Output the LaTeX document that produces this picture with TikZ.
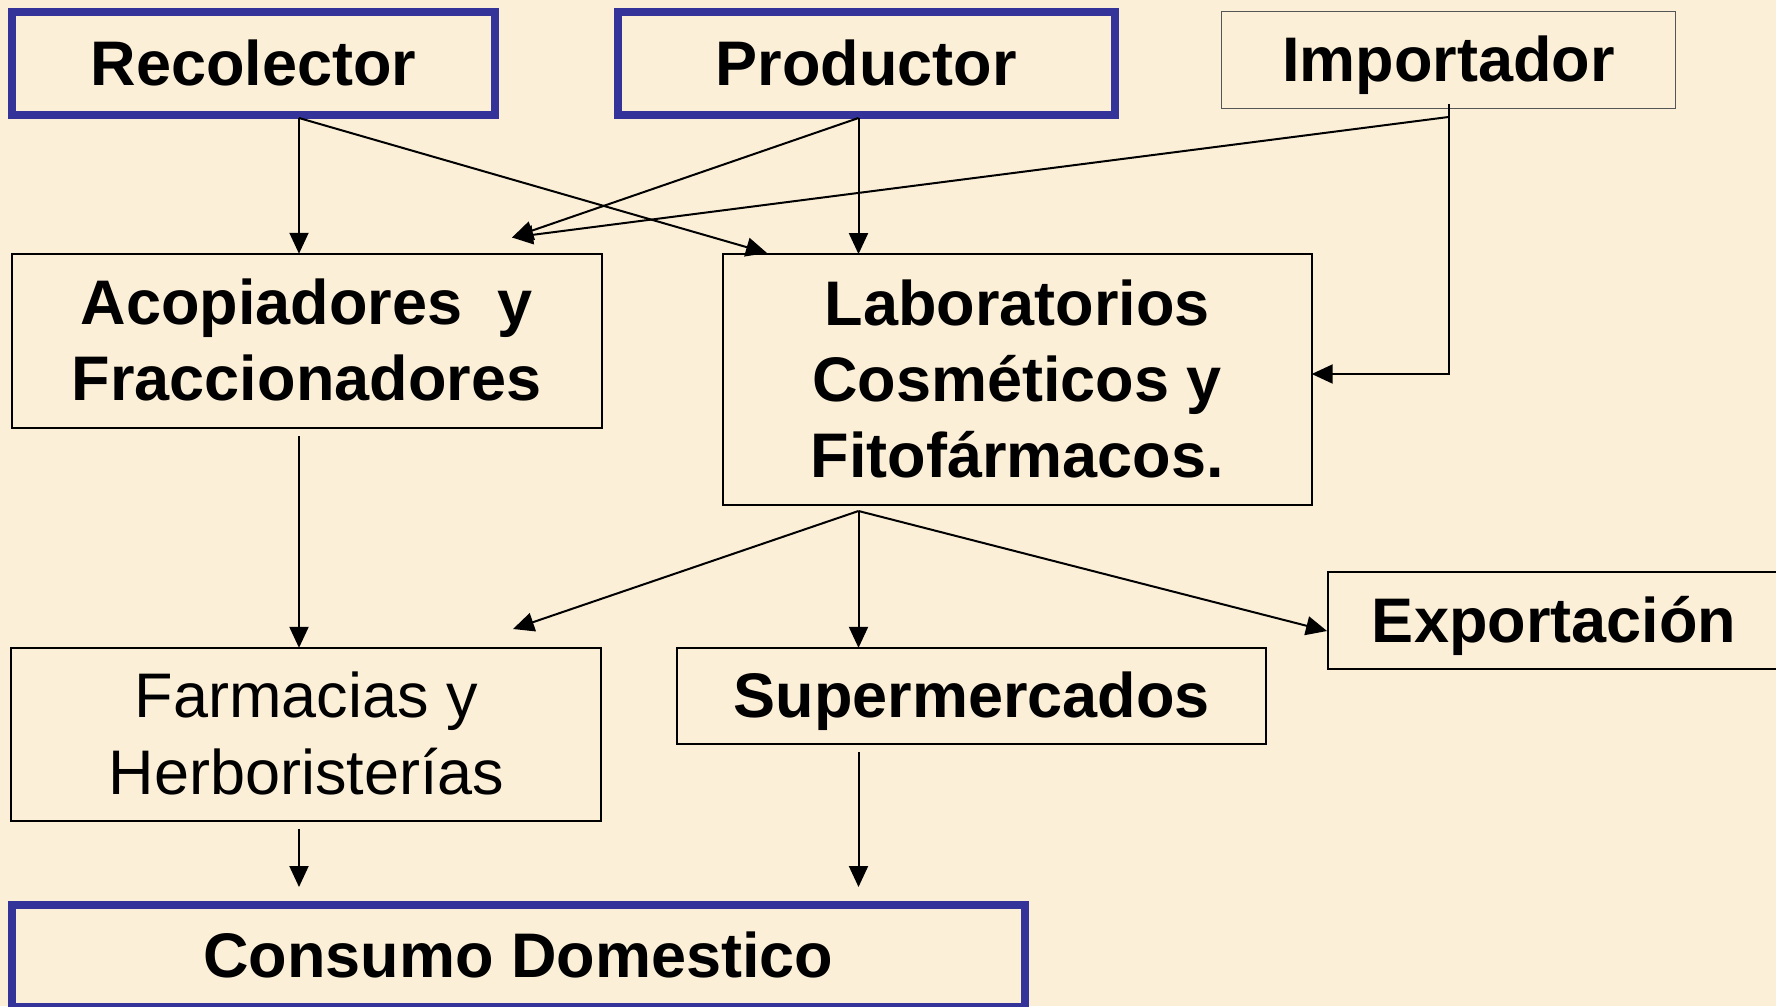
\documentclass[tikz,border=0pt]{standalone}
\usepackage{fontspec}
\setmainfont{Liberation Sans}
\usetikzlibrary{arrows.meta}
\definecolor{bg}{RGB}{251,239,216}
\definecolor{pptblue}{RGB}{51,51,153}
\definecolor{framegray}{RGB}{85,85,85}
\newcommand\lstr{\rule[-0.212em]{0pt}{1.117em}}
\begin{document}
\begin{tikzpicture}[x=1pt,y=-1pt,
  base/.style={inner sep=0pt, outer sep=0pt, align=center, text=black,
    font=\fontsize{63}{76}\selectfont\bfseries},
  bluebox/.style={base, draw=pptblue, line width=8pt},
  plainbox/.style={base, draw=black, line width=2pt},
  thinbox/.style={base, draw=framegray, line width=1.3pt},
  arr/.style={draw=black, line width=2pt, -{Triangle[length=21pt,width=19pt]}}
]
\fill[bg] (0,0) rectangle (1776,1006);
\useasboundingbox (0,0) rectangle (1776,1006);

% nodes
\node[bluebox, minimum width=483pt, minimum height=103pt] (rec) at (253.5,64) {\lstr Recolector};
\node[bluebox, minimum width=497pt, minimum height=103pt] (prod) at (866,64) {\lstr Productor};
\node[thinbox, minimum width=454pt, minimum height=96.6pt] (imp) at (1448.5,60) {\lstr Importador};
\node[plainbox, minimum width=590pt, minimum height=174.5pt] (acop) at (306.5,341) {\lstr Acopiadores\ \ y\\\lstr Fraccionadores};
\node[plainbox, minimum width=589pt, minimum height=251pt] (lab) at (1017.2,379.6) {\lstr Laboratorios\\\lstr Cosméticos y\\\lstr Fitofármacos.};
\node[plainbox, minimum width=452pt, minimum height=97.6pt] (exp) at (1554,620.5) {\lstr Exportación};
\node[plainbox, minimum width=590pt, minimum height=173.3pt, font=\fontsize{63}{77}\selectfont] (farm) at (306.4,734.5) {\lstr Farmacias y\\\lstr Herboristerías};
\node[plainbox, minimum width=589pt, minimum height=96.3pt] (sup) at (971.9,696) {\lstr Supermercados};
\node[bluebox, minimum width=1013pt, minimum height=102pt] (cons) at (518.3,956) {\lstr Consumo Domestico};

% connector end points
\coordinate (rs) at (299,118);
\coordinate (ps) at (858.5,118);
\coordinate (is) at (1448.5,104);
\coordinate (isd) at (1448.5,117);
\coordinate (acin) at (512,237.5);
\coordinate (labin) at (767,253);
\coordinate (bend) at (1448.5,374);
\coordinate (acout) at (299,436);
\coordinate (lo) at (858.5,511);
\coordinate (farmin) at (513,629);
\coordinate (expin) at (1327,631);
\coordinate (farmout) at (299,829);
\coordinate (supout) at (858.5,752);
\coordinate (consin1) at (299,887);
\coordinate (consin2) at (858.5,887);

% connectors
\draw[arr] (rs) -- (rs |- acop.north);
\draw[arr] (rs) -- (labin);
\draw[arr] (ps) -- (acin);
\draw[arr] (ps) -- (ps |- lab.north);
\draw[arr] (isd) -- (acin);
\draw[arr] (is) -- (bend) -- (bend -| lab.east);
\draw[arr] (acout) -- (acout |- farm.north);
\draw[arr] (lo) -- (farmin);
\draw[arr] (lo) -- (lo |- sup.north);
\draw[arr] (lo) -- (expin);
\draw[arr] (farmout) -- (consin1);
\draw[arr] (supout) -- (consin2);
\end{tikzpicture}
\end{document}
